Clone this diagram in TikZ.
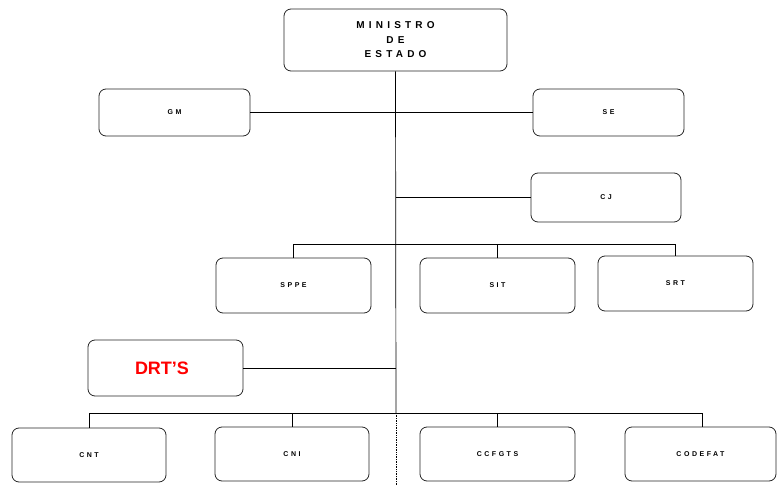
\documentclass[tikz,border=0pt]{standalone}
\usepackage{fontspec}
\setmainfont{Liberation Sans}
\newfontfamily\spacedfont[LetterSpace=36]{Liberation Sans}
\newfontfamily\titlefont[LetterSpace=42]{Liberation Sans}
\begin{document}
\begin{tikzpicture}[x=1pt,y=-1pt,
  orgbox/.style={draw=black!85, line width=0.8pt, rounded corners=7pt,
    inner sep=0pt, align=center, font=\spacedfont\bfseries\fontsize{7}{8}\selectfont},
  smallbox/.style={orgbox, minimum width=151pt, minimum height=47pt},
  midbox/.style={orgbox, minimum width=155pt, minimum height=55pt},
  link/.style={draw=black, line width=0.7pt}]
\useasboundingbox (0,0) rectangle (777,486);

% top of the chart
\node[orgbox, minimum width=223pt, minimum height=62pt,
  font=\titlefont\bfseries\fontsize{10}{14.5}\selectfont] (min) at (395.5,40)
  {MINISTRO\\DE\\ESTADO};

% advisory units
\node[smallbox] (gm) at (174.5,112.5) {GM};
\node[smallbox] (se) at (608.5,112.5) {SE};
\node[orgbox, minimum width=150pt, minimum height=49pt] (cj) at (606,197.5) {CJ};

% secretariats
\node[midbox] (sppe) at (293.5,285.5) {SPPE};
\node[midbox] (sit) at (497.5,285.5) {SIT};
\node[midbox] (srt) at (675.5,283.5) {SRT};

% regional offices
\node[orgbox, minimum width=155pt, minimum height=56pt,
  font=\bfseries\fontsize{18}{20}\selectfont, text=red] (drt) at (165.5,368) {DRT’S\hspace*{7pt}};

% councils
\node[midbox, minimum width=154pt, minimum height=54pt] (cnt) at (89,455) {CNT};
\node[midbox, minimum width=154pt, minimum height=54pt] (cni) at (292,454) {CNI};
\node[midbox, minimum width=155pt, minimum height=54pt] (ccfgts) at (497.5,454) {CCFGTS};
\node[midbox, minimum width=151pt, minimum height=54pt] (codefat) at (700.5,454) {CODEFAT};

% junctions on the main line
\coordinate (busA) at (396,244);
\coordinate (busB) at (396,413);
\coordinate (foot) at (396,486);

% main vertical line
\draw[link] (min.south) -- (busB);
\draw[link, densely dotted] (busB) -- (foot);

% advisory units
\draw[link] (gm.east) -- (se.west);
\draw[line width=1.6pt] ([xshift=-3pt]min.south |- gm.east) -- ([xshift=12pt]min.south |- gm.east);
\draw[link] (cj.west) -- (cj.west -| min.south);

% secretariats
\draw[link] (sppe.north) -- (sppe.north |- busA) -| (srt.north);
\draw[link] (sit.north) -- (sit.north |- busA);

% regional offices
\draw[link] (drt.east) -- (drt.east -| min.south);

% councils
\draw[link] (cnt.north) -- (cnt.north |- busB) -| ([xshift=1.5pt]codefat.north);
\draw[link] (cni.north) -- (cni.north |- busB);
\draw[link] (ccfgts.north) -- (ccfgts.north |- busB);
\end{tikzpicture}
\end{document}
